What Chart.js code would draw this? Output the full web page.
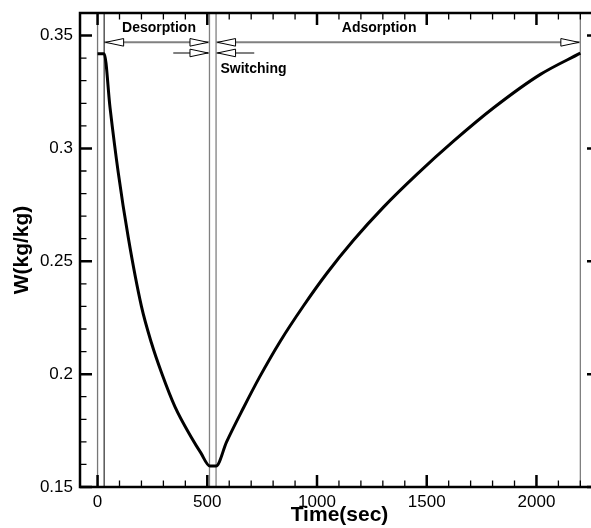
<!DOCTYPE html>
<html>
<head>
<meta charset="utf-8">
<script src="https://cdn.jsdelivr.net/npm/chart.js@4"></script>
<style>
    html, body { margin: 0; padding: 0; background: #fff; overflow: hidden; }
    #wrap { width: 620px; height: 528px; }
</style>
</head>
<body>
<div id="wrap"><canvas id="chart" width="620" height="528"></canvas></div>
<script>
// W(kg/kg) against time
const timeDesorb = [0, 30, 57, 94, 140, 200, 245, 292, 353, 429, 470, 512, 540];
const wDesorb = [0.342, 0.342, 0.318, 0.2895, 0.2605, 0.2300, 0.2140, 0.2005, 0.1855, 0.1717, 0.1652, 0.1593, 0.1593];
const timeAdsorb = [540, 588, 664, 740, 832, 938, 1045, 1166, 1303, 1455, 1622, 1805, 2018, 2200];
const wAdsorb = [0.1593, 0.17, 0.1849, 0.199, 0.2145, 0.2302, 0.2447, 0.2593, 0.274, 0.2885, 0.3032, 0.318, 0.3328, 0.3422];

// phase boundaries (vertical lines) and annotation levels
const phaseLines = [0, 30, 510, 540, 2200];
const phaseLineColors = ['#777777', '#000000', '#808080', '#808080', '#808080'];
const arrowLevel = 0.347;   // Desorption / Adsorption arrows
const switchLevel = 0.3423; // switching arrows
const desorbSpan = [30, 510];
const adsorbSpan = [540, 2200];
const switchLeft = [345, 510];
const switchRight = [714, 540];
const phaseLabels = ['Desorption', 'Adsorption', 'Switching'];
const labelTimes = [280, 1283, 560];
const labelLevels = [0.3518, 0.3518, 0.3336];

// axes
const xRange = [-80, 2285];
const yRange = [0.15, 0.36];
const xTicks = [0, 500, 1000, 1500, 2000];
const xTickLabels = ['0', '500', '1000', '1500', '2000'];
const yTicks = [0.15, 0.2, 0.25, 0.3, 0.35];
const yTickLabels = ['0.15', '0.2', '0.25', '0.3', '0.35'];
const xMinorStep = 100;
const yMinorStep = 0.01;

const FONT = "'Liberation Sans', Arial, sans-serif";

function toPoints(xs, ys) {
    return xs.map((x, i) => ({ x: x, y: ys[i] }));
}

function segment(x0, x1, y) {
    return [{ x: x0, y: y }, { x: x1, y: y }];
}

const curve = toPoints(timeDesorb, wDesorb).concat(toPoints(timeAdsorb, wAdsorb).slice(1));

const datasets = [{
    data: curve,
    borderColor: '#000',
    borderWidth: 3,
    pointRadius: 0,
    cubicInterpolationMode: 'monotone',
    showLine: true
}];

phaseLines.forEach((t, i) => {
    datasets.push({
        data: [{ x: t, y: yRange[0] }, { x: t, y: yRange[1] }],
        borderColor: phaseLineColors[i],
        borderWidth: i === 1 ? 1 : 1.3,
        pointRadius: 0,
        showLine: true
    });
});

[segment(desorbSpan[0], desorbSpan[1], arrowLevel),
 segment(adsorbSpan[0], adsorbSpan[1], arrowLevel),
 segment(switchLeft[0], switchLeft[1], switchLevel),
 segment(switchRight[0], switchRight[1], switchLevel)].forEach(seg => {
    datasets.push({
        data: seg,
        borderColor: '#808080',
        borderWidth: 2,
        pointRadius: 0,
        showLine: true
    });
});

// open triangle heads and the phase names
const annotations = {
    id: 'annotations',
    afterDatasetsDraw(chart) {
        const { ctx, scales: { x, y } } = chart;
        const heads = [
            [desorbSpan[0], arrowLevel, -1], [desorbSpan[1], arrowLevel, 1],
            [adsorbSpan[0], arrowLevel, -1], [adsorbSpan[1], arrowLevel, 1],
            [switchLeft[1], switchLevel, 1], [switchRight[1], switchLevel, -1]
        ];
        ctx.save();
        ctx.lineWidth = 1;
        ctx.strokeStyle = '#000';
        ctx.fillStyle = '#fff';
        heads.forEach(([t, w, dir]) => {
            const px = x.getPixelForValue(t) - dir * 1.5;
            const py = y.getPixelForValue(w);
            ctx.beginPath();
            ctx.moveTo(px, py);
            ctx.lineTo(px - dir * 18, py - 3.8);
            ctx.lineTo(px - dir * 18, py + 3.8);
            ctx.closePath();
            ctx.fill();
            ctx.stroke();
        });
        ctx.fillStyle = '#000';
        ctx.font = 'bold 14px ' + FONT;
        ctx.textBaseline = 'alphabetic';
        phaseLabels.forEach((txt, i) => {
            ctx.textAlign = i === 2 ? 'left' : 'center';
            ctx.fillText(txt, x.getPixelForValue(labelTimes[i]), y.getPixelForValue(labelLevels[i]));
        });
        ctx.restore();
    }
};

// frame with inward ticks on all four sides
const frame = {
    id: 'frame',
    afterDraw(chart) {
        const { ctx, chartArea: a, scales: { x, y } } = chart;
        ctx.save();
        ctx.strokeStyle = '#000';
        ctx.lineCap = 'butt';
        for (let t = Math.ceil(xRange[0] / xMinorStep) * xMinorStep; t <= xRange[1]; t += xMinorStep) {
            const major = t % 500 === 0;
            const px = x.getPixelForValue(t);
            const len = major ? 12 : 6.5;
            ctx.lineWidth = major ? 2.5 : 1.3;
            ctx.beginPath();
            ctx.moveTo(px, a.bottom); ctx.lineTo(px, a.bottom - len);
            ctx.moveTo(px, a.top); ctx.lineTo(px, a.top + len);
            ctx.stroke();
        }
        for (let k = 0; yRange[0] + k * yMinorStep <= yRange[1] + 1e-9; k++) {
            const w = yRange[0] + k * yMinorStep;
            const major = k % 5 === 0;
            const py = y.getPixelForValue(w);
            const len = major ? 12 : 6.5;
            ctx.lineWidth = major ? 2.5 : 1.3;
            ctx.beginPath();
            ctx.moveTo(a.left, py); ctx.lineTo(a.left + len, py);
            ctx.moveTo(a.right, py); ctx.lineTo(a.right - len, py);
            ctx.stroke();
        }
        ctx.lineWidth = 2.5;
        ctx.strokeRect(a.left, a.top, a.right - a.left, a.bottom - a.top);
        ctx.restore();
    }
};

new Chart(document.getElementById('chart').getContext('2d'), {
    type: 'scatter',
    data: { datasets: datasets },
    options: {
        responsive: false,
        animation: false,
        events: [],
        layout: { padding: { top: 13, right: 21, left: 0, bottom: 0 } },
        plugins: { legend: { display: false }, tooltip: { enabled: false } },
        scales: {
            x: {
                type: 'linear',
                min: xRange[0],
                max: xRange[1],
                afterBuildTicks: s => { s.ticks = xTicks.map(v => ({ value: v })); },
                afterFit: s => { s.height = 41; s.paddingLeft = 0; s.paddingRight = 0; },
                grid: { display: false, drawTicks: false },
                border: { display: false },
                ticks: {
                    padding: 5,
                    color: '#000',
                    font: { family: FONT, size: 17 },
                    maxRotation: 0,
                    callback: v => xTickLabels[xTicks.indexOf(v)]
                },
                title: {
                    display: true,
                    text: 'Time(sec)',
                    color: '#000',
                    font: { family: FONT, size: 21, weight: 'bold' },
                    padding: { top: 0, bottom: 0 }
                }
            },
            y: {
                type: 'linear',
                min: yRange[0],
                max: yRange[1],
                afterBuildTicks: s => { s.ticks = yTicks.map(v => ({ value: v })); },
                afterFit: s => { s.width = 80; s.paddingTop = 0; s.paddingBottom = 0; },
                grid: { display: false, drawTicks: false },
                border: { display: false },
                ticks: {
                    padding: 7,
                    color: '#000',
                    font: { family: FONT, size: 17 },
                    callback: v => yTickLabels[yTicks.findIndex(t => Math.abs(t - v) < 1e-9)]
                },
                title: {
                    display: true,
                    text: 'W(kg/kg)',
                    color: '#000',
                    font: { family: FONT, size: 21, weight: 'bold' },
                    padding: { top: 10, bottom: 0 }
                }
            }
        }
    },
    plugins: [annotations, frame]
});
</script>
</body>
</html>
